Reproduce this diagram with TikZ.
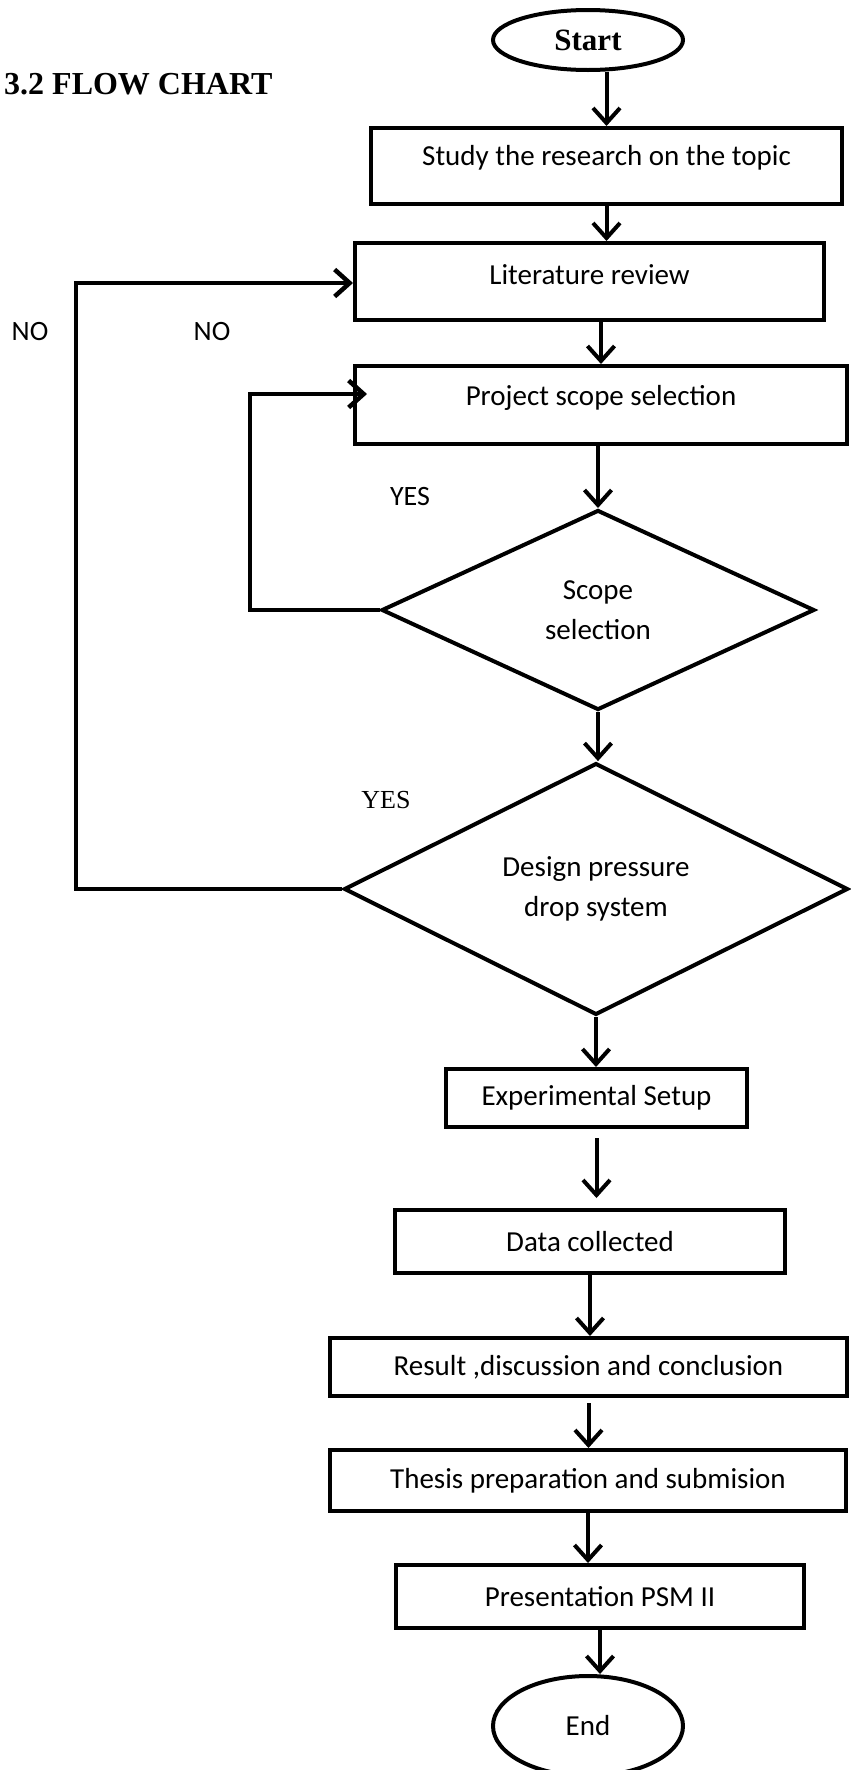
\documentclass[tikz,border=0pt]{standalone}
\usepackage{fontspec}
\setmainfont{Carlito}
\newfontfamily\tnr{Liberation Serif}
\usetikzlibrary{arrows.meta,shapes.geometric}
\begin{document}
\begin{tikzpicture}[x=1pt,y=-1pt,
  box/.style={draw,line width=4pt,rectangle,inner sep=0pt,font=\fontsize{29}{35}\selectfont},
  dia/.style={draw,line width=4pt,diamond,inner sep=0pt,align=center,font=\fontsize{29}{40}\selectfont},
  oval/.style={draw,line width=4pt,ellipse,inner sep=0pt},
  arr/.style={line width=4pt,-{Straight Barb[length=15pt,width=27pt]}},
  loopline/.style={line width=4.5pt,-{Straight Barb[length=15pt,width=27pt]}},
  lbl/.style={inner sep=0pt,font=\fontsize{28}{34}\selectfont}]
\fill[white] (0,0) rectangle (851,1770);
\useasboundingbox (0,0) rectangle (851,1770);

\node[anchor=west,inner sep=0pt,font=\tnr\bfseries\fontsize{32}{36}\selectfont] (title) at (4,84) {3.2 FLOW CHART};

\node[oval,minimum width=190pt,minimum height=60pt,font=\tnr\bfseries\fontsize{31}{36}\selectfont] (start) at (588,40) {Start};
\node[box,minimum width=471pt,minimum height=76pt] (study) at (606.5,166) {Study the research on the topic\rule[-22pt]{0pt}{1pt}};
\node[box,minimum width=469pt,minimum height=77pt] (lit) at (589.5,281.5) {Literature review\rule[-14pt]{0pt}{1pt}};
\node[box,minimum width=492pt,minimum height=78pt] (proj) at (601,405) {Project scope selection\rule[-20pt]{0pt}{1pt}};
\node[dia,minimum width=433pt,minimum height=200pt] (d1) at (598,610) {Scope\\selection};
\node[dia,minimum width=504pt,minimum height=229pt] (d2) at (596,889) {Design pressure\\drop system};
\node[box,minimum width=301pt,minimum height=58pt] (exp) at (596.5,1098) {Experimental Setup\hspace{24pt}};
\node[box,minimum width=390pt,minimum height=63pt] (data) at (590,1241.5) {Data collected};
\node[box,minimum width=517pt,minimum height=58pt] (result) at (588.5,1367) {Result ,discussion and conclusion};
\node[box,minimum width=516pt,minimum height=61pt] (thesis) at (588,1480.5) {Thesis preparation and submision};
\node[box,minimum width=408pt,minimum height=63pt] (pres) at (600,1596.5) {Presentation PSM II};
\node[oval,minimum width=190pt,minimum height=100pt,font=\fontsize{29}{35}\selectfont] (end) at (588,1726) {End};

\node[lbl] (no1) at (30,332) {NO};
\node[lbl] (no2) at (212,332) {NO};
\node[lbl] (yes1) at (410,497) {YES};
\node[lbl,font=\tnr\fontsize{26}{30}\selectfont] (yes2) at (386,800) {YES};

\draw[arr] (study.north |- start.south) -- (study.north);
\draw[arr] (study.south) -- (study.south |- lit.north);
\draw[arr] (proj.north |- lit.south) -- (proj.north);
\draw[arr] (d1.north |- proj.south) -- (d1.north);
\draw[arr] (d1.south) -- (d1.south |- d2.north);
\draw[arr] (d2.south) -- (d2.south |- exp.north);
\draw[arr,shorten <=9pt,shorten >=10pt] (exp.south) -- (exp.south |- data.north);
\draw[arr] (data.south) -- (data.south |- result.north);
\draw[arr,shorten <=5pt] (result.south) -- (result.south |- thesis.north);
\draw[arr] (thesis.south) -- (thesis.south |- pres.north);
\draw[arr] (pres.south) -- (pres.south |- end.north);

\coordinate (l1b) at (250,610);
\coordinate (l1t) at (250,394);
\draw[loopline] (d1.west) -- (l1b) -- (l1t) -- ([xshift=14pt]l1t -| proj.west);
\coordinate (l2b) at (76,889);
\coordinate (l2t) at (76,283);
\draw[loopline] (d2.west) -- (l2b) -- (l2t) -- (l2t -| lit.west);
\end{tikzpicture}
\end{document}
